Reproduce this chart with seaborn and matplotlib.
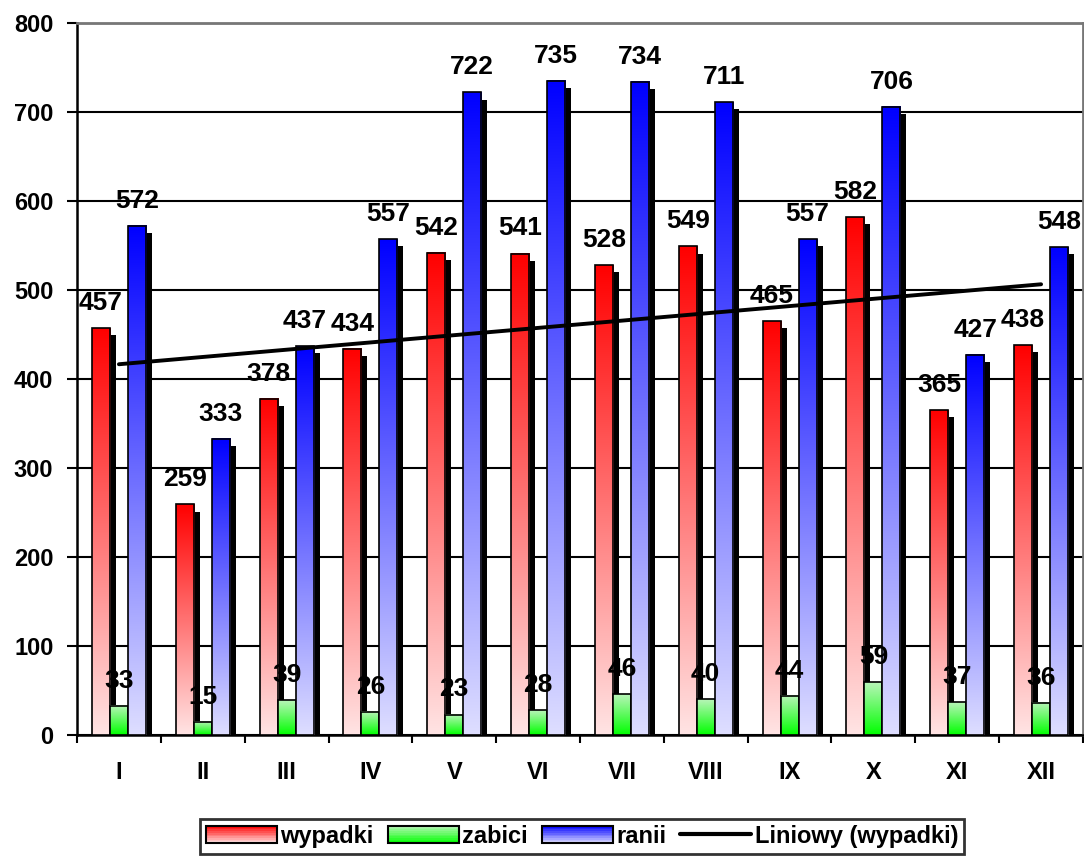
import numpy as np
import pandas as pd
import matplotlib
matplotlib.use("Agg")
import matplotlib.pyplot as plt
import seaborn as sns
from matplotlib.patches import Rectangle, Patch
from matplotlib.lines import Line2D
from matplotlib.legend_handler import HandlerBase

# Data
miesiace = ['I', 'II', 'III', 'IV', 'V', 'VI', 'VII', 'VIII', 'IX', 'X', 'XI', 'XII']
wypadki = [457, 259, 378, 434, 542, 541, 528, 549, 465, 582, 365, 438]
zabici = [33, 15, 39, 26, 23, 28, 46, 40, 44, 59, 37, 36]
ranii = [572, 333, 437, 557, 722, 735, 734, 711, 557, 706, 427, 548]
serie = ['wypadki', 'zabici', 'ranii']

# gradient colours (top, bottom) per series
grad_cols = {
    'wypadki': ((255, 0, 0), (255, 228, 228)),
    'zabici': ((185, 245, 185), (0, 255, 0)),
    'ranii': ((0, 0, 255), (222, 222, 255)),
}

df = pd.DataFrame({
    'miesiac': miesiace * 3,
    'seria': ['wypadki'] * 12 + ['zabici'] * 12 + ['ranii'] * 12,
    'wartosc': wypadki + zabici + ranii,
})

sns.set_style('white')
plt.rcParams['font.family'] = ['Liberation Sans', 'DejaVu Sans']
plt.rcParams['font.weight'] = 'bold'
plt.rcParams['text.color'] = 'black'
plt.rcParams['xtick.color'] = 'black'
plt.rcParams['ytick.color'] = 'black'
plt.rcParams['axes.labelcolor'] = 'black'

fig = plt.figure(figsize=(10.84, 8.56), dpi=100)
ax = fig.add_axes([77 / 1084, 1 - 735 / 856, 1006 / 1084, 712 / 856])

sns.barplot(data=df, x='miesiac', y='wartosc', hue='seria', hue_order=serie,
            palette=['red', 'lime', 'blue'], width=0.645, saturation=1,
            legend=False, errorbar=None, ax=ax)


def make_grad(top, bot, n=256):
    t = np.linspace(0, 1, n)[:, None]
    top = np.array(top) / 255.0
    bot = np.array(bot) / 255.0
    g = bot + (top - bot) * t
    return g[:, None, :]


dx, dy = 0.072, 8
for i, (name, cont) in enumerate(zip(serie, ax.containers)):
    base = 3 + i * 3
    img = make_grad(*grad_cols[name])
    for bar in cont:
        x, w, h = bar.get_x(), bar.get_width(), bar.get_height()
        # shadow
        ax.add_patch(Rectangle((x + dx, 0), w, max(h - dy, 0), facecolor='black',
                               edgecolor='none', zorder=base))
        ax.imshow(img, extent=[x, x + w, 0, h], origin='lower', aspect='auto',
                  interpolation='bilinear', zorder=base + 1)
        bar.set_facecolor('none')
        bar.set_edgecolor('black')
        bar.set_linewidth(1.2)
        bar.set_zorder(base + 2)
        ax.annotate(str(int(round(h))), (x + w / 2, h), xytext=(0, 13),
                    textcoords='offset points', ha='center', va='baseline',
                    fontsize=19, fontweight='bold', color='black', zorder=25)

# linear trend of wypadki
xs = np.arange(len(wypadki))
a, b = np.polyfit(xs, wypadki, 1)
ax.plot([xs[0], xs[-1]], [a * xs[0] + b, a * xs[-1] + b], color='black',
        lw=2.8, zorder=20, solid_capstyle='round')

ax.set_xlim(-0.5, 11.5)
ax.set_ylim(0, 800)
ax.set_yticks(range(0, 801, 100))
ax.yaxis.grid(True, color='black', lw=1.5, zorder=1)
ax.set_axisbelow(True)
ax.set_xlabel('')
ax.set_ylabel('')

ax.set_xticks(np.arange(-0.5, 12, 1), minor=True)
ax.tick_params(axis='x', which='major', length=0, pad=19, labelsize=17)
ax.tick_params(axis='x', which='minor', length=6, width=1.5, direction='out', bottom=True)
ax.tick_params(axis='y', length=7, width=1.5, direction='out', left=True, pad=10, labelsize=17)
for lab in ax.get_xticklabels() + ax.get_yticklabels():
    lab.set_fontweight('bold')

for side in ['left', 'bottom']:
    ax.spines[side].set_color('black')
    ax.spines[side].set_linewidth(1.8)
for side in ['top', 'right']:
    ax.spines[side].set_color('#777777')
    ax.spines[side].set_linewidth(2)


class GradHandler(HandlerBase):
    def __init__(self, top, bot):
        super().__init__()
        self.top = np.array(top) / 255.0
        self.bot = np.array(bot) / 255.0

    def create_artists(self, legend, orig_handle, xdescent, ydescent, width, height, fontsize, trans):
        arts = []
        n = 10
        for k in range(n):
            t = (k + 0.5) / n
            col = self.bot + (self.top - self.bot) * t
            arts.append(Rectangle((-xdescent, -ydescent + height * k / n), width, height / n,
                                  facecolor=col, edgecolor='none', transform=trans))
        arts.append(Rectangle((-xdescent, -ydescent), width, height, facecolor='none',
                              edgecolor='black', lw=1.5, transform=trans))
        return arts


handles = [Patch(label=s) for s in serie]
hmap = {h: GradHandler(*grad_cols[s]) for h, s in zip(handles, serie)}
line_h = Line2D([], [], color='black', lw=3, label='Liniowy (wypadki)')
leg = fig.legend(handles + [line_h], serie + ['Liniowy (wypadki)'], handler_map=hmap,
                 loc='center', bbox_to_anchor=(0.537, 0.023), ncol=4, fontsize=17,
                 frameon=True, fancybox=False, handlelength=3.0, handleheight=0.75,
                 handletextpad=0.15, columnspacing=0.6, borderpad=0.25, borderaxespad=0)
leg.get_frame().set_edgecolor('black')
leg.get_frame().set_linewidth(2)
for t in leg.get_texts():
    t.set_fontweight('bold')
    t.set_color('black')

fig.savefig('out.png', dpi=100)
